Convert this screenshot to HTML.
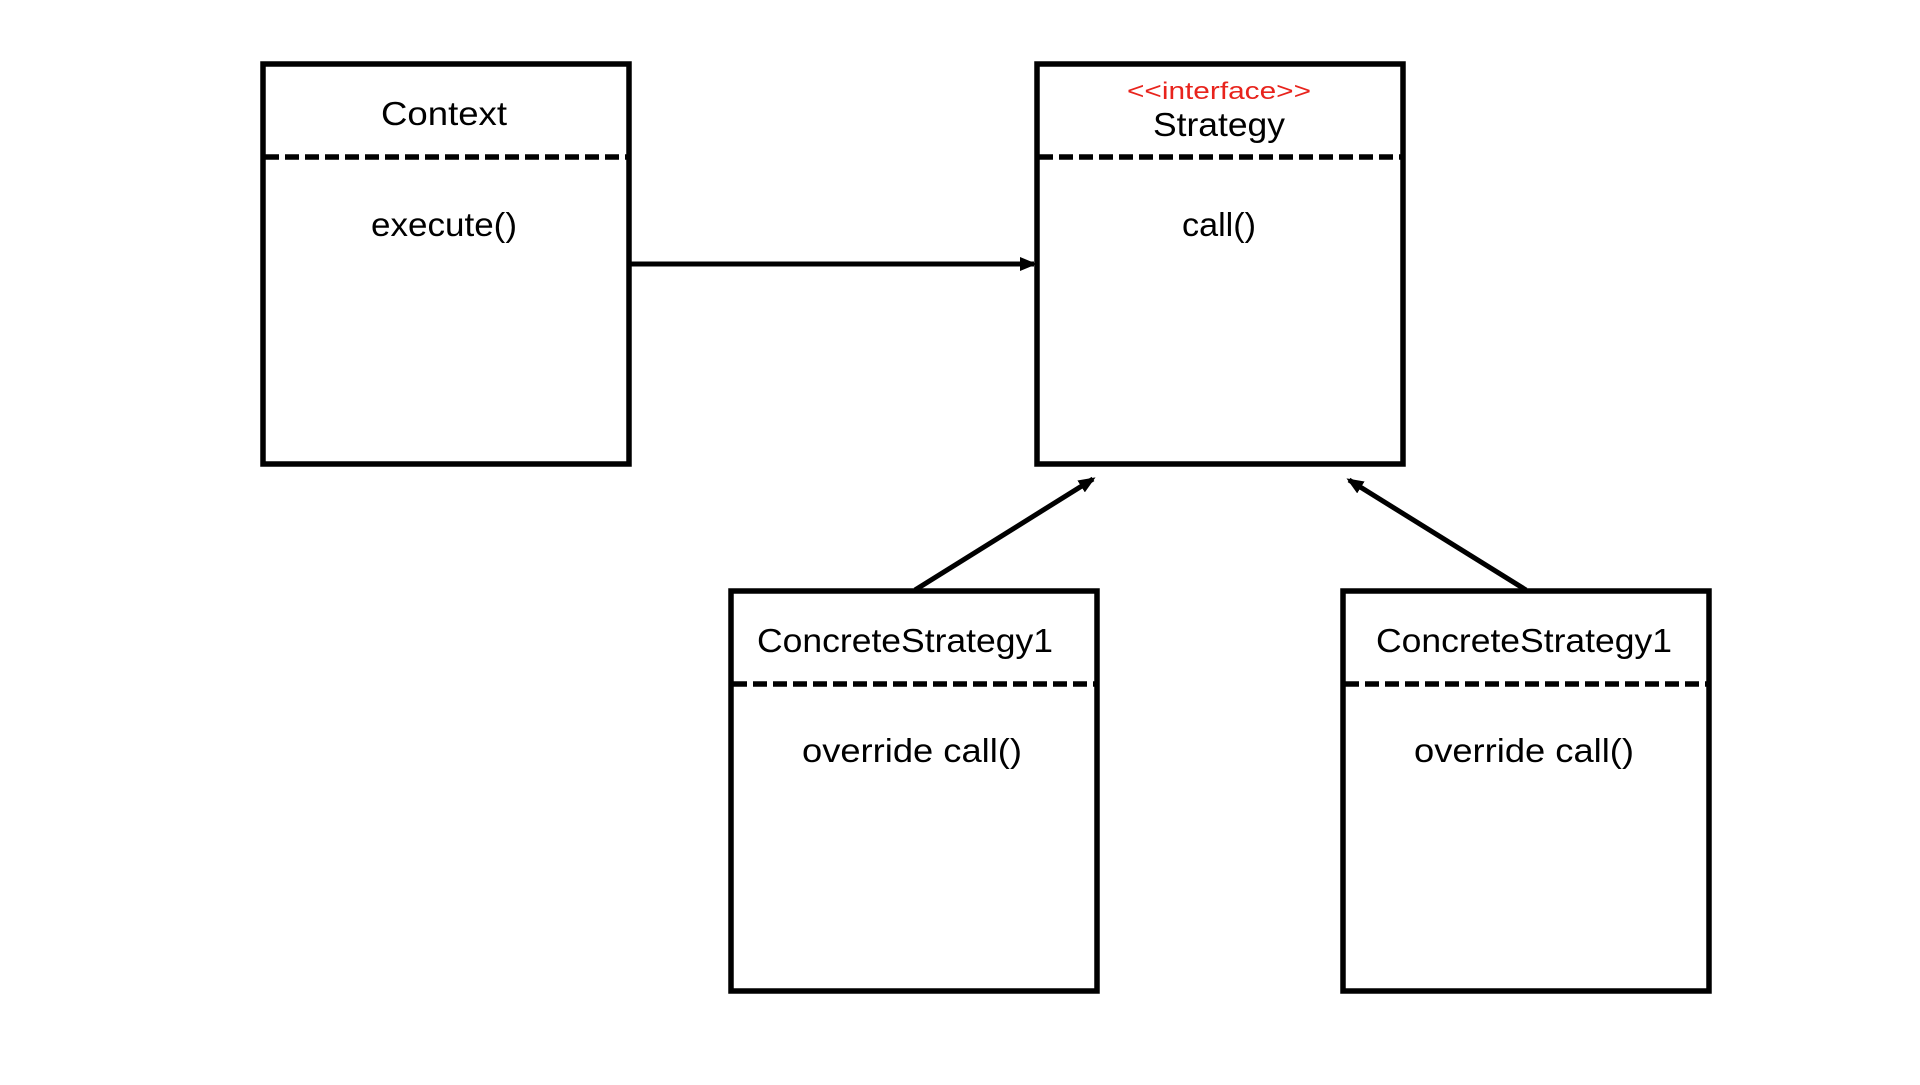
<!DOCTYPE html>
<html><head><style>
body{margin:0;width:1920px;height:1080px;background:#fff;overflow:hidden;font-family:"Liberation Sans","Noto Sans CJK KR",sans-serif;}
</style></head><body>
<svg width="1920" height="1080" xmlns="http://www.w3.org/2000/svg">
<defs>
<marker id="b" markerWidth="18" markerHeight="16" refX="14" refY="8" orient="auto" markerUnits="userSpaceOnUse"><path d="M0,1 L17,8 L0,15 z" fill="#000"/></marker></defs>
<g fill="none" stroke="#000" stroke-width="5.5">
<rect x="263" y="64" width="366" height="400"/>
<rect x="1037" y="64" width="366" height="400"/>
<rect x="731" y="591" width="366" height="400"/>
<rect x="1343" y="591" width="366" height="400"/>
</g>
<g stroke="#000" stroke-width="5.5" stroke-dasharray="14,6">
<line x1="265" y1="157" x2="627" y2="157"/>
<line x1="1039" y1="157" x2="1401" y2="157"/>
<line x1="733" y1="684" x2="1095" y2="684"/>
<line x1="1345" y1="684" x2="1707" y2="684"/>
</g>
<g stroke="#000" stroke-width="5">
<line x1="631" y1="264" x2="1034" y2="264" marker-end="url(#b)"/>
<line x1="915" y1="590" x2="1093" y2="479" marker-end="url(#b)"/>
<line x1="1526" y1="590" x2="1349" y2="480" marker-end="url(#b)"/>
</g>
<g font-size="33" text-anchor="middle" fill="#000">
<text x="444" y="125" textLength="126" lengthAdjust="spacingAndGlyphs">Context</text>
<text x="444" y="236" textLength="146" lengthAdjust="spacingAndGlyphs">execute()</text>
<text x="1219" y="136" textLength="132" lengthAdjust="spacingAndGlyphs">Strategy</text>
<text x="1219" y="236" textLength="74" lengthAdjust="spacingAndGlyphs">call()</text>
<text x="905" y="652" textLength="296" lengthAdjust="spacingAndGlyphs">ConcreteStrategy1</text>
<text x="912" y="762" textLength="220" lengthAdjust="spacingAndGlyphs">override call()</text>
<text x="1524" y="652" textLength="296" lengthAdjust="spacingAndGlyphs">ConcreteStrategy1</text>
<text x="1524" y="762" textLength="220" lengthAdjust="spacingAndGlyphs">override call()</text>
<text x="1219" y="99" font-size="24" fill="#e8231c" textLength="184" lengthAdjust="spacingAndGlyphs">&lt;&lt;interface&gt;&gt;</text>
</g>
</svg>
</body></html>
